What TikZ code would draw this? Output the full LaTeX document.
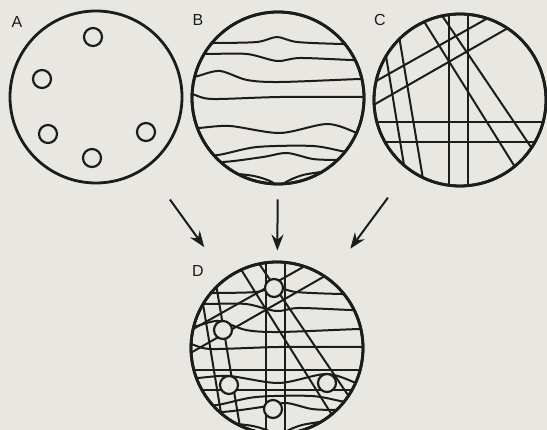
\documentclass[tikz,border=0pt]{standalone}
\usepackage{fontspec}
\setmainfont{Liberation Sans}
\usetikzlibrary{arrows.meta}
\definecolor{paper}{HTML}{E9E7E2}
\definecolor{ink}{HTML}{1C1C1C}

\tikzset{
  disc/.style={circle, draw=ink, line width=2.8pt, minimum size=172pt, inner sep=0pt},
  streak/.style={draw=ink, line width=2pt, line cap=round},
  spot/.style={draw=ink, line width=2.2pt, fill=paper},
  flow/.style={draw=ink, line width=2pt, -{Stealth[length=16pt,width=12pt]}},
  tag/.style={text=ink, font=\fontsize{16}{16}\selectfont, inner sep=0pt}
}

% wavy bands (B)
\newcommand{\bandlines}{%
  \draw[streak] plot[smooth] coordinates {(-100,-55) (-63,-55) (-21,-56) (-1,-61) (19,-56) (64,-54) (100,-54)};
  \draw[streak] plot[smooth] coordinates {(-100,-44) (-71,-44) (-31,-44) (-1,-37) (22,-40) (74,-38) (100,-38)};
  \draw[streak] plot[smooth] coordinates {(-100,-16) (-80,-22) (-58,-27) (-31,-18) (2,-16) (82,-19) (100,-19)};
  \draw[streak] plot[smooth] coordinates {(-100,-8) (-83,-3) (-65,1) (2,-1) (85,-1) (100,-1)};
  \draw[streak] plot[smooth] coordinates {(-100,30) (-80,30) (-48,28) (2,35) (49,26) (79,35) (100,45)};
  \draw[streak] plot[smooth] coordinates {(-100,60) (-60,57) (-21,49) (35,48) (69,54) (100,56)};
  \draw[streak] plot[smooth] coordinates {(-100,64) (-55,64) (-15,59) (9,55) (35,61) (62,62) (100,62)};
  \draw[streak] plot[smooth] coordinates {(-50,75) (-24,78) (-6,84) (1,92)};
  \draw[streak] plot[smooth] coordinates {(1,92) (8,84) (25,77) (50,73)};
}

% straight streaks (C)
\newcommand{\crosslines}{%
  \draw[streak] (-100,22) -- (100,22);
  \draw[streak] (-100,42) -- (100,42);
  \draw[streak] (-11,-100) -- (-11,100);
  \draw[streak] (8,-100) -- (8,100);
  \draw[streak, shorten <=-40pt, shorten >=-40pt] (-35,-77) -- (55,67);
  \draw[streak, shorten <=-40pt, shorten >=-40pt] (-17,-83) -- (75,53);
  \draw[streak, shorten <=-40pt, shorten >=-40pt] (-83,3) -- (48,-72);
  \draw[streak, shorten <=-40pt, shorten >=-40pt] (-82,-20) -- (28,-82);
  \draw[streak, shorten <=-40pt, shorten >=-40pt] (-73,-38) -- (-58,53);
  \draw[streak, shorten <=-40pt, shorten >=-40pt] (-60,-58) -- (-38,73);
}

% spots (A)
\newcommand{\spots}{%
  \foreach \sx/\sy in {-3/-60, -54/-18, -48/37, -4/61, 50/35}
    \draw[spot] (\sx,\sy) circle (9);
}

\begin{document}
\begin{tikzpicture}[x=1pt, y=-1pt]
  \fill[paper] (0,0) rectangle (547,430);
  \useasboundingbox (0,0) rectangle (547,430);

  % the four fields
  \node[disc] (A) at (96,97) {};
  \node[disc] (B) at (278,98) {};
  \node[disc] (C) at (460,100) {};
  \node[disc] (D) at (277,348) {};

  \node[tag] (tagA) at (17,22) {A};
  \node[tag] (tagB) at (198,20) {B};
  \node[tag] (tagC) at (380,20) {C};
  \node[tag] (tagD) at (198,271) {D};

  \begin{scope}[shift={(A)}]
    \spots
  \end{scope}

  \begin{scope}[shift={(B)}]
    \clip (0,0) circle (86);
    \bandlines
  \end{scope}

  \begin{scope}[shift={(C)}]
    \clip (0,0) circle (86);
    \crosslines
  \end{scope}

  \begin{scope}[shift={(D)}]
    \begin{scope}
      \clip (0,0) circle (86);
      \bandlines
      \crosslines
    \end{scope}
    \spots
  \end{scope}

  % redraw rims over the streaks
  \foreach \n in {B, C, D}
    \draw[ink, line width=2.8pt] (\n) circle (86);

  \draw[flow, shorten <=39pt, shorten >=37pt] (A) -- (D);
  \draw[flow, shorten <=14pt, shorten >=10pt] (B) -- (D);
  \draw[flow, shorten <=34pt, shorten >=36pt] (C) -- (D);
\end{tikzpicture}
\end{document}
